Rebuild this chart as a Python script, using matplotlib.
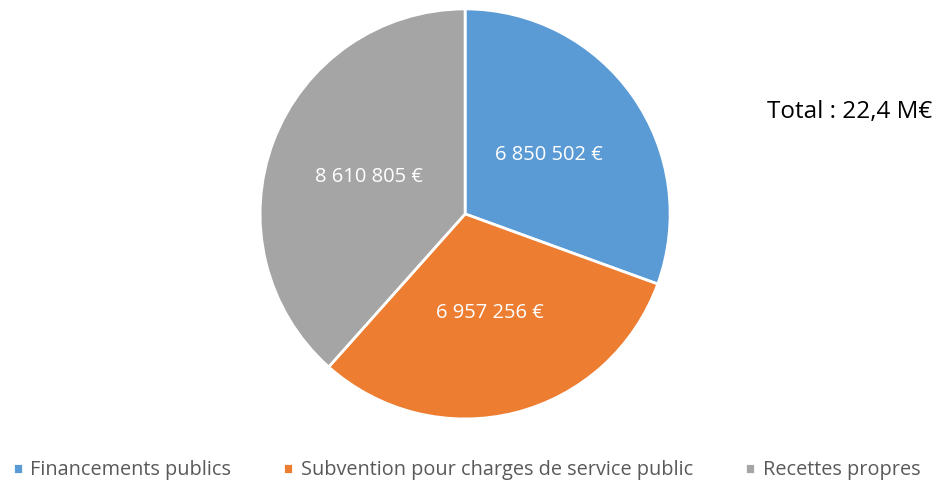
import matplotlib
matplotlib.use('Agg')
import matplotlib.pyplot as plt

# ## Data
categories = ['Financements publics', 'Subvention pour charges de service public', 'Recettes propres']
values = [6850502, 6957256, 8610805]
colors = ['#5B9BD5', '#ED7D31', '#A5A5A5']
total_label = 'Total : 22,4 M€'

plt.rcParams['font.family'] = ['Open Sans', 'DejaVu Sans']


def fmt_eur(v):
    return '{:,}'.format(v).replace(',', ' ') + ' €'


fig = plt.figure(figsize=(9.52, 4.84), dpi=100)
ax = fig.add_axes([0.4885 - 0.2153, 0.558 - 0.4236, 0.4307, 0.8472])

wedges, texts = ax.pie(values, labels=[fmt_eur(v) for v in values], colors=colors,
                       startangle=90, counterclock=False, labeldistance=0.5,
                       wedgeprops=dict(edgecolor='white', linewidth=2),
                       textprops=dict(color='white', fontsize=14.5, ha='center', va='center'))
ax.set_xlim(-1, 1)
ax.set_ylim(-1, 1)
ax.set_aspect('equal')

fig.text(0.806, 0.768, total_label, fontsize=17.5, color='black', va='center', ha='left')

fig.legend(wedges, categories, loc='center', bbox_to_anchor=(0.49, 0.028), ncol=3,
           frameon=False, fontsize=14.3, labelcolor='#595959', handlelength=0.5,
           handleheight=0.5, handletextpad=0.4, columnspacing=2.6)

fig.savefig('out.png', dpi=100)
